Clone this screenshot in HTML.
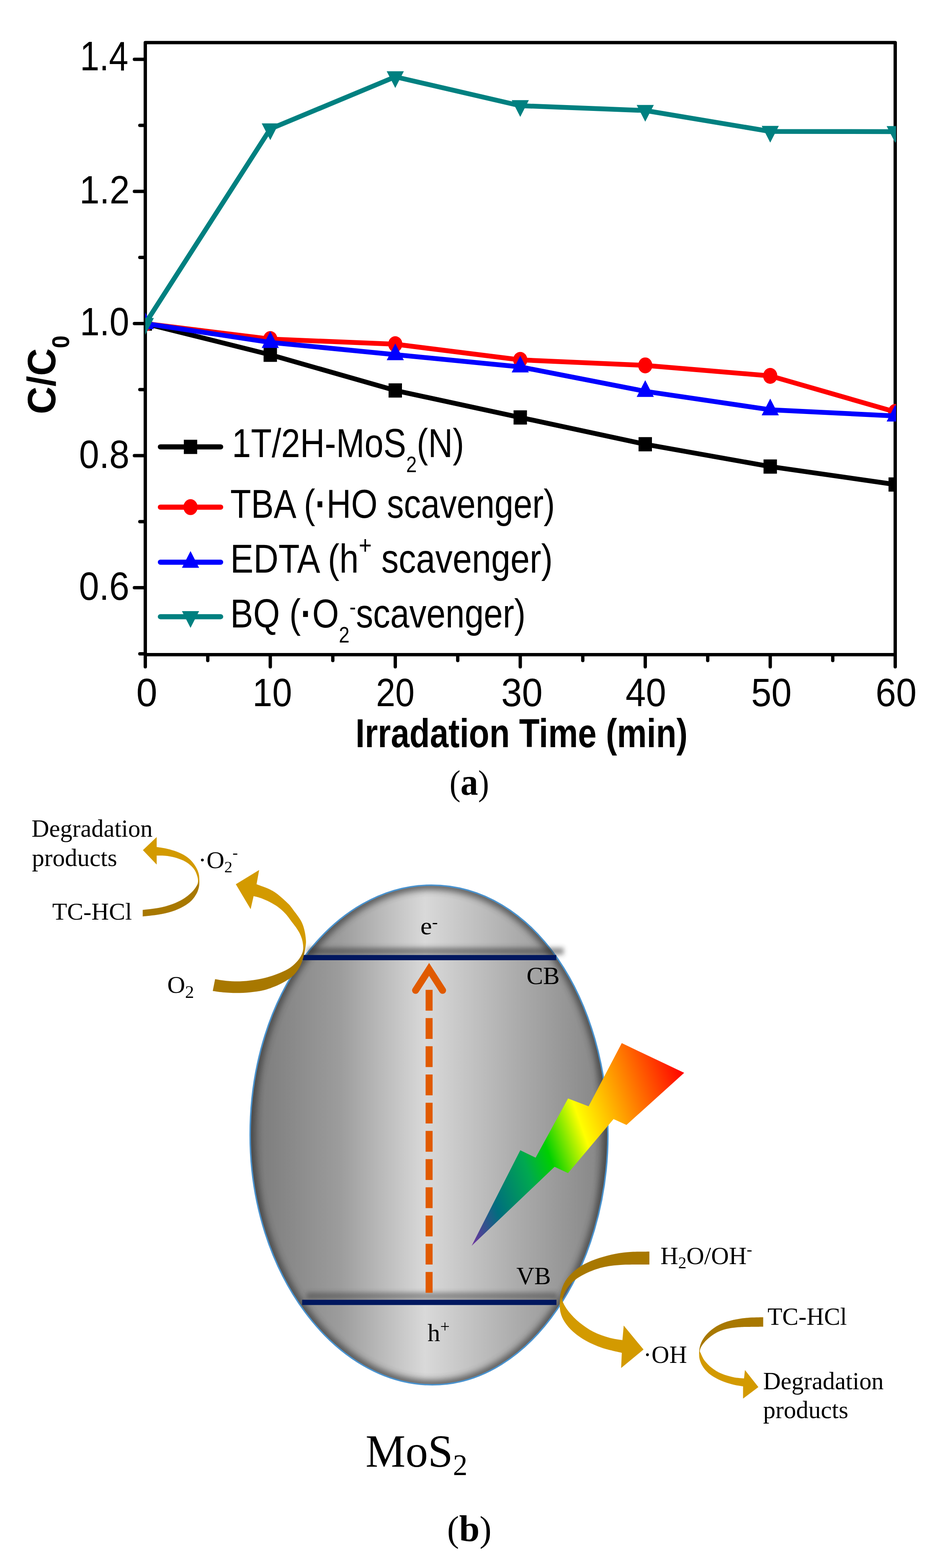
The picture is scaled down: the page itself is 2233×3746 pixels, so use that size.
<!DOCTYPE html>
<html><head><meta charset="utf-8"><title>Figure</title>
<style>html,body{margin:0;padding:0;background:#fff;width:2233px;height:3746px;overflow:hidden}svg{display:block}</style>
</head><body>
<svg width="2233" height="3746" viewBox="0 0 2233 3746">
<defs><clipPath id="pc"><rect x="347" y="101" width="1793" height="1463"/></clipPath></defs>
<path d="M347,101.7H2138V1564H347Z" fill="none" stroke="#000" stroke-width="8" stroke-linejoin="round"/>
<path d="M347,141.7H321M347,299.5H334M347,457.3H321M347,615.1H334M347,772.9H321M347,930.7H334M347,1088.5H321M347,1246.3H334M347,1404.1H321M347,1561.9H334M347,1564V1593M496.2,1564V1578M645.5,1564V1593M794.8,1564V1578M944,1564V1593M1093.2,1564V1578M1242.5,1564V1593M1391.8,1564V1578M1541,1564V1593M1690.2,1564V1578M1839.5,1564V1593M1988.8,1564V1578M2138,1564V1593" fill="none" stroke="#000" stroke-width="8" stroke-linecap="round"/>
<g clip-path="url(#pc)" stroke-linejoin="round">
<polyline points="347,773 645.5,847.5 944,932.8 1242.5,997.3 1541,1061.3 1839.5,1114.6 2138,1157.5" fill="none" stroke="#000000" stroke-width="11.5"/>
<g fill="#000000"><rect x="331" y="756" width="32" height="34"/><rect x="629.5" y="830.5" width="32" height="34"/><rect x="928" y="915.8" width="32" height="34"/><rect x="1226.5" y="980.3" width="32" height="34"/><rect x="1525" y="1044.3" width="32" height="34"/><rect x="1823.5" y="1097.6" width="32" height="34"/><rect x="2122" y="1140.5" width="32" height="34"/></g>
<polyline points="347,773 645.5,810 944,822.3 1242.5,859.8 1541,872.9 1839.5,898 2138,984" fill="none" stroke="#FF0000" stroke-width="11.5"/>
<g fill="#FF0000"><ellipse cx="347" cy="773" rx="17" ry="19"/><ellipse cx="645.5" cy="810" rx="17" ry="19"/><ellipse cx="944" cy="822.3" rx="17" ry="19"/><ellipse cx="1242.5" cy="859.8" rx="17" ry="19"/><ellipse cx="1541" cy="872.9" rx="17" ry="19"/><ellipse cx="1839.5" cy="898" rx="17" ry="19"/><ellipse cx="2138" cy="984" rx="17" ry="19"/></g>
<polyline points="347,773 645.5,818 944,847.2 1242.5,876.5 1541,934.9 1839.5,978.9 2138,993.8" fill="none" stroke="#0000FF" stroke-width="11.5"/>
<g fill="#0000FF"><path d="M347,746.3L326.5,786.3L367.5,786.3Z"/><path d="M645.5,791.3L625,831.3L666,831.3Z"/><path d="M944,820.5L923.5,860.5L964.5,860.5Z"/><path d="M1242.5,849.8L1222,889.8L1263,889.8Z"/><path d="M1541,908.2L1520.5,948.2L1561.5,948.2Z"/><path d="M1839.5,952.2L1819,992.2L1860,992.2Z"/><path d="M2138,967.1L2117.5,1007.1L2158.5,1007.1Z"/></g>
<polyline points="347,773 645.5,308 944,183.5 1242.5,252.5 1541,264 1839.5,314 2138,314.5" fill="none" stroke="#008080" stroke-width="11.5"/>
<g fill="#008080"><path d="M326.5,759.7L367.5,759.7L347,799.7Z"/><path d="M625,294.7L666,294.7L645.5,334.7Z"/><path d="M923.5,170.2L964.5,170.2L944,210.2Z"/><path d="M1222,239.2L1263,239.2L1242.5,279.2Z"/><path d="M1520.5,250.7L1561.5,250.7L1541,290.7Z"/><path d="M1819,300.7L1860,300.7L1839.5,340.7Z"/><path d="M2117.5,301.2L2158.5,301.2L2138,341.2Z"/></g>
</g>
<path d="M383,1067.6H527" stroke="#000000" stroke-width="12.2" stroke-linecap="round"/>
<g fill="#000000"><rect x="439" y="1050.6" width="32" height="34"/></g>
<path d="M383,1211.6H527" stroke="#FF0000" stroke-width="12.2" stroke-linecap="round"/>
<g fill="#FF0000"><ellipse cx="455" cy="1211.6" rx="17" ry="19"/></g>
<path d="M383,1343.1H527" stroke="#0000FF" stroke-width="12.2" stroke-linecap="round"/>
<g fill="#0000FF"><path d="M455,1316.4L434.5,1356.4L475.5,1356.4Z"/></g>
<path d="M383,1473.3H527" stroke="#008080" stroke-width="12.2" stroke-linecap="round"/>
<g fill="#008080"><path d="M434.5,1460L475.5,1460L455,1500Z"/></g>
<text transform="translate(131.5,989.5) rotate(-90)" style="font-family:'Liberation Sans',Arial,sans-serif;font-size:95px;font-weight:bold" textLength="188" lengthAdjust="spacingAndGlyphs">C/C<tspan dy="33" style="font-size:57px">0</tspan></text>
<defs>
<linearGradient id="eggG" gradientUnits="userSpaceOnUse" x1="598" y1="0" x2="1451" y2="0">
<stop offset="0" stop-color="#6c6c6c"/><stop offset="0.04" stop-color="#7f7f7f"/>
<stop offset="0.25" stop-color="#9c9c9c"/><stop offset="0.489" stop-color="#d9d9d9"/>
<stop offset="0.75" stop-color="#ababab"/><stop offset="0.96" stop-color="#8a8a8a"/><stop offset="1" stop-color="#6c6c6c"/>
</linearGradient>
<clipPath id="eggC"><path d="M1030.0,2114.7 C1274.6,2114.7 1451.8,2387.7 1451.8,2711.3 C1451.8,3027.4 1267.9,3308.3 1032.6,3308.3 C801.8,3308.3 597.4,3043.2 597.4,2711.3 C597.4,2369.0 801.2,2114.7 1030.0,2114.7Z"/></clipPath>
<filter id="blur8" x="-20%" y="-20%" width="140%" height="140%"><feGaussianBlur stdDeviation="8"/></filter>
<filter id="blur6" x="-20%" y="-200%" width="140%" height="500%"><feGaussianBlur stdDeviation="6"/></filter>
<linearGradient id="boltG" gradientUnits="userSpaceOnUse" x1="1126.4" y1="2976.2" x2="1707.9" y2="2772.9">
<stop offset="0" stop-color="#7030A0"/><stop offset="0.14" stop-color="#006E7E"/>
<stop offset="0.3" stop-color="#00A850"/><stop offset="0.4" stop-color="#00D000"/>
<stop offset="0.555" stop-color="#FFFF00"/><stop offset="0.74" stop-color="#FF9600"/><stop offset="1" stop-color="#FF0000"/>
</linearGradient>
<linearGradient id="gA" gradientUnits="userSpaceOnUse" x1="0" y1="2100" x2="0" y2="2116"><stop offset="0" stop-color="#D39A00"/><stop offset="1" stop-color="#A87800"/></linearGradient>
<linearGradient id="gB" gradientUnits="userSpaceOnUse" x1="0" y1="2258" x2="0" y2="2280"><stop offset="0" stop-color="#D39A00"/><stop offset="1" stop-color="#A87800"/></linearGradient>
<linearGradient id="gC" gradientUnits="userSpaceOnUse" x1="0" y1="3098" x2="0" y2="3116"><stop offset="0" stop-color="#A87800"/><stop offset="1" stop-color="#D39A00"/></linearGradient>
<linearGradient id="gD" gradientUnits="userSpaceOnUse" x1="0" y1="3222" x2="0" y2="3236"><stop offset="0" stop-color="#A87800"/><stop offset="1" stop-color="#D39A00"/></linearGradient>
</defs>
<path d="M1030.0,2114.7 C1274.6,2114.7 1451.8,2387.7 1451.8,2711.3 C1451.8,3027.4 1267.9,3308.3 1032.6,3308.3 C801.8,3308.3 597.4,3043.2 597.4,2711.3 C597.4,2369.0 801.2,2114.7 1030.0,2114.7Z" fill="url(#eggG)"/>
<g clip-path="url(#eggC)"><path d="M1030.0,2114.7 C1274.6,2114.7 1451.8,2387.7 1451.8,2711.3 C1451.8,3027.4 1267.9,3308.3 1032.6,3308.3 C801.8,3308.3 597.4,3043.2 597.4,2711.3 C597.4,2369.0 801.2,2114.7 1030.0,2114.7Z" fill="none" stroke="#3a3a3a" stroke-width="22" filter="url(#blur8)" opacity="0.75"/></g>
<path d="M1030.0,2114.7 C1274.6,2114.7 1451.8,2387.7 1451.8,2711.3 C1451.8,3027.4 1267.9,3308.3 1032.6,3308.3 C801.8,3308.3 597.4,3043.2 597.4,2711.3 C597.4,2369.0 801.2,2114.7 1030.0,2114.7Z" fill="none" stroke="#4a93cf" stroke-width="3.5"/>
<rect x="734" y="2264" width="612" height="17" fill="#2a2a2a" opacity="0.5" filter="url(#blur6)"/>
<rect x="732" y="3088" width="598" height="17" fill="#2a2a2a" opacity="0.42" filter="url(#blur6)"/>
<rect x="722.5" y="2281.5" width="606" height="12.5" fill="#00175F"/>
<rect x="721.5" y="3105.2" width="607.5" height="12.5" fill="#00175F"/>
<path d="M1024.8,3088.5V2363.5" stroke="#E05A00" stroke-width="16.7" stroke-dasharray="49.7 17.7" fill="none"/>
<path d="M992.5,2366L1024.8,2316L1057,2366" stroke="#E05A00" stroke-width="16.7" stroke-linecap="round" stroke-linejoin="miter" fill="none"/>
<path d="M1126.4,2976.2L1242.6,2747.9L1279.2,2765.7L1356.6,2624.2L1405.7,2643L1484.9,2492.1L1634,2563L1496.2,2687.5L1465.3,2673.6L1356.6,2802.6L1324.5,2787.5Z" fill="url(#boltG)"/>
<path d="M340.8,2189.5C347.1,2188.8 366.8,2187.1 378.5,2185.1C390.2,2183.1 401,2180.8 410.9,2177.6C420.8,2174.4 430.1,2170 437.8,2165.7C445.5,2161.4 452,2156.7 457.2,2151.7C462.4,2146.7 466.1,2141 469.1,2135.6C472.1,2130.2 473.8,2124.8 475,2119.4C476.2,2114 476.2,2108.6 476.1,2103.2C476,2097.8 476,2092.6 474.5,2087C473,2081.4 470.3,2075.4 466.9,2069.8C463.5,2064.2 458.9,2058.3 454,2053.6C449.1,2048.9 444.1,2045.3 437.8,2041.8C431.5,2038.3 423.5,2035.1 416.3,2032.6C409.1,2030.1 401.7,2028.2 394.7,2026.7C387.7,2025.2 377.6,2024 374.2,2023.4L374.2,1999.7L341.3,2031L374.2,2065.5L374.2,2043.9C377.6,2044 387.7,2043.7 394.7,2044.4C401.7,2045.1 409.1,2046.3 416.3,2048.2C423.5,2050.1 431.5,2052.8 437.8,2055.8C444.1,2058.9 449.5,2062.7 454,2066.5C458.5,2070.3 461.9,2073.9 464.8,2078.4C467.7,2082.9 469.9,2088.8 471.2,2093.5C472.5,2098.2 473.2,2102.5 472.9,2106.4C472.5,2110.3 471.7,2112.9 469.1,2117.2C466.5,2121.5 462.4,2127.3 457.2,2132.3C452,2137.3 445.5,2142.7 437.8,2147.4C430.1,2152.1 420.8,2156.7 410.9,2160.3C401,2163.9 390.2,2166.8 378.5,2169C366.8,2171.2 347.1,2173 340.8,2173.8Z" fill="url(#gA)"/>
<path d="M508.1,2367.5C512.1,2368 522.9,2369.9 532.3,2370.7C541.7,2371.5 553.9,2372.3 564.7,2372.3C575.5,2372.3 586.2,2371.8 597,2370.7C607.8,2369.6 618.6,2368.5 629.4,2365.8C640.2,2363.1 652.3,2358.5 661.7,2354.5C671.1,2350.5 679.2,2345.9 686,2341.6C692.8,2337.3 697.4,2333.8 702.2,2328.7C707.1,2323.6 711.6,2317.1 715.1,2310.9C718.6,2304.7 721.1,2298.1 723.2,2291.5C725.4,2284.9 726.8,2277.9 728,2271.5C729.2,2265.1 730.4,2258.1 730.7,2252.8C731,2247.5 730.4,2244.2 730,2239.9C729.6,2235.6 729,2231.4 728.1,2227.1C727.2,2222.8 726.3,2218.5 724.9,2214.2C723.5,2209.9 722,2205.7 719.7,2201.4C717.5,2197.1 714.4,2192.8 711.4,2188.5C708.4,2184.2 705.5,2180.5 701.8,2175.7C698,2170.9 695.3,2166.1 688.9,2159.6C682.5,2153.1 670.6,2142.3 663.2,2136.5C655.8,2130.7 650.6,2127.9 644.3,2124.7C638,2121.5 630.8,2119.2 625.5,2117.2C620.2,2115.2 614.8,2113.3 612.7,2112.5L618.9,2078.5L563.2,2112.5L598.6,2171.9L605.7,2140.8C609,2141.7 619.1,2144.1 625.5,2146.4C631.9,2148.8 638,2151.6 644.3,2154.9C650.6,2158.2 656.9,2161.5 663.2,2166.2C669.5,2170.9 676.2,2176.8 682.1,2183.2C688,2189.6 694.1,2198.9 698.5,2204.6C702.9,2210.3 705.3,2213.2 708.2,2217.5C711.1,2221.8 713.8,2226 715.9,2230.3C718,2234.6 719.7,2238.8 721,2243.1C722.3,2247.4 723.1,2251.7 723.6,2256C724.1,2260.3 724.6,2264.6 724,2268.8C723.4,2273 722.4,2276.6 720.2,2281C718,2285.4 715.1,2290.5 710.8,2295.5C706.4,2300.5 700.9,2306.2 694.1,2310.9C687.3,2315.6 679.2,2319.8 669.8,2323.8C660.4,2327.8 648.3,2332.1 637.5,2335.1C626.7,2338.1 615.9,2340 605.1,2341.6C594.3,2343.2 583.6,2344.2 572.8,2344.5C562,2344.8 550.2,2344.1 540.4,2343.2C530.5,2342.3 518.2,2339.9 513.7,2339.2Z" fill="url(#gB)"/>
<path d="M1550.9,2990.1C1543.8,2990.2 1521.8,2989.9 1508.2,2990.8C1494.6,2991.7 1482.4,2993 1469.5,2995.5C1456.6,2998 1443.1,3001.5 1430.7,3005.6C1418.3,3009.7 1405.4,3014.8 1395.1,3020.3C1384.8,3025.9 1376.2,3032.2 1368.7,3038.9C1361.2,3045.6 1354.9,3052.8 1350.1,3060.6C1345.3,3068.3 1342.3,3077.1 1340.1,3085.4C1337.9,3093.7 1337.3,3101.9 1337,3110.2C1336.7,3118.5 1336.6,3127 1338.5,3135C1340.4,3143 1343.6,3150.4 1348.6,3158.2C1353.6,3165.9 1360.2,3174 1368.7,3181.5C1377.2,3189 1388.1,3196.8 1399.7,3203.2C1411.3,3209.6 1424.3,3215.4 1438.5,3220.2C1452.7,3225 1477.2,3229.9 1485,3231.9L1483.4,3268.3L1536.9,3224.1L1489.6,3166.8L1486.5,3201.6C1481.1,3200.6 1465.6,3198.8 1454,3195.4C1442.4,3192.1 1428.4,3187.4 1416.8,3181.5C1405.2,3175.6 1393.8,3167.6 1384.2,3159.8C1374.6,3152.1 1365.9,3142.8 1359.4,3135C1353,3127.2 1348.1,3119 1345.5,3113.3C1342.9,3107.6 1342.7,3106.6 1344,3100.9C1345.3,3095.2 1348.6,3086.2 1353.2,3079.2C1357.8,3072.2 1364,3065.2 1371.8,3059C1379.5,3052.8 1388.6,3047.2 1399.7,3042C1410.8,3036.8 1424.3,3031.4 1438.5,3028C1452.7,3024.6 1466.3,3023 1485,3021.8C1503.7,3020.7 1539.9,3021.2 1550.9,3021.1Z" fill="url(#gC)"/>
<path d="M1822.7,3147C1816.6,3147.2 1797.8,3147.1 1786,3148.2C1774.2,3149.2 1762.1,3150.9 1751.6,3153.3C1741.1,3155.7 1731.6,3158.7 1723,3162.5C1714.4,3166.3 1706.8,3171 1700.1,3176.2C1693.4,3181.3 1687.5,3187.3 1682.9,3193.4C1678.3,3199.5 1674.8,3206.4 1672.6,3212.9C1670.4,3219.4 1669.9,3226.3 1669.7,3232.4C1669.5,3238.5 1669.7,3243.7 1671.5,3249.6C1673.3,3255.5 1676.2,3262 1680.6,3267.9C1685,3273.8 1690.7,3279.9 1697.8,3285.1C1704.9,3290.2 1714,3295 1723,3298.8C1732,3302.6 1743,3305.8 1751.6,3308C1760.2,3310.2 1770.8,3311.3 1774.6,3312L1774.6,3341.2L1811.2,3313.7L1779.1,3273L1776.9,3293.1C1772.7,3292.6 1760.6,3292.1 1751.6,3290.2C1742.6,3288.3 1731.6,3285.3 1723,3281.6C1714.4,3277.9 1706.8,3273.1 1700.1,3267.9C1693.4,3262.8 1687.3,3256.4 1682.9,3250.7C1678.5,3245 1675.6,3237.5 1673.7,3233.5C1671.8,3229.5 1671.1,3229.7 1671.5,3226.6C1671.9,3223.5 1673.2,3219.6 1676,3215.2C1678.8,3210.8 1683.2,3205.3 1688.6,3200.3C1693.9,3195.3 1700.4,3189.6 1708.1,3185.4C1715.8,3181.2 1724.4,3177.6 1734.5,3175.1C1744.6,3172.6 1754.1,3171.4 1768.8,3170.5C1783.5,3169.6 1813.7,3169.6 1822.7,3169.4Z" fill="url(#gD)"/>
<g fill="#000"><text id="t14" x="191" y="168.4" style="font-family:'Liberation Sans',Arial,sans-serif;font-size:97.4px" textLength="115.6" lengthAdjust="spacingAndGlyphs">1.4</text>
<text id="t12" x="189.8" y="486.2" style="font-family:'Liberation Sans',Arial,sans-serif;font-size:94.6px" textLength="119.8" lengthAdjust="spacingAndGlyphs">1.2</text>
<text id="t10" x="190.8" y="801.4" style="font-family:'Liberation Sans',Arial,sans-serif;font-size:94px" textLength="117.8" lengthAdjust="spacingAndGlyphs">1.0</text>
<text id="t08" x="188.8" y="1117.6" style="font-family:'Liberation Sans',Arial,sans-serif;font-size:94.4px" textLength="120.2" lengthAdjust="spacingAndGlyphs">0.8</text>
<text id="t06" x="188.6" y="1432.6" style="font-family:'Liberation Sans',Arial,sans-serif;font-size:94.7px" textLength="120.4" lengthAdjust="spacingAndGlyphs">0.6</text>
<text id="x0" x="325.5" y="1686.6" style="font-family:'Liberation Sans',Arial,sans-serif;font-size:93.7px" textLength="50.1" lengthAdjust="spacingAndGlyphs">0</text>
<text id="x10" x="603" y="1686.6" style="font-family:'Liberation Sans',Arial,sans-serif;font-size:93.7px" textLength="94.5" lengthAdjust="spacingAndGlyphs">10</text>
<text id="x20" x="898" y="1686.6" style="font-family:'Liberation Sans',Arial,sans-serif;font-size:93.7px" textLength="92.2" lengthAdjust="spacingAndGlyphs">20</text>
<text id="x30" x="1197" y="1686.6" style="font-family:'Liberation Sans',Arial,sans-serif;font-size:93.7px" textLength="98.8" lengthAdjust="spacingAndGlyphs">30</text>
<text id="x40" x="1494" y="1686.6" style="font-family:'Liberation Sans',Arial,sans-serif;font-size:93.7px" textLength="96.8" lengthAdjust="spacingAndGlyphs">40</text>
<text id="x50" x="1794" y="1686.6" style="font-family:'Liberation Sans',Arial,sans-serif;font-size:93.7px" textLength="96.7" lengthAdjust="spacingAndGlyphs">50</text>
<text id="x60" x="2091" y="1686.6" style="font-family:'Liberation Sans',Arial,sans-serif;font-size:93.7px" textLength="98.1" lengthAdjust="spacingAndGlyphs">60</text>
<text id="xtitle" x="849" y="1785" style="font-family:'Liberation Sans',Arial,sans-serif;font-size:95.5px;font-weight:bold" textLength="793.2" lengthAdjust="spacingAndGlyphs">Irradation Time (min)</text>
<text id="leg1" x="554" y="1092" style="font-family:'Liberation Sans',Arial,sans-serif;font-size:96.5px" textLength="554.3" lengthAdjust="spacingAndGlyphs">1T/2H-MoS<tspan dy="36" style="font-size:54px">2</tspan><tspan dy="-36">(N)</tspan></text>
<text id="leg2" x="550" y="1237.3" style="font-family:'Liberation Sans',Arial,sans-serif;font-size:96.5px" textLength="775.3" lengthAdjust="spacingAndGlyphs">TBA (<tspan style="font-weight:bold">·</tspan>HO scavenger)</text>
<text id="leg3" x="550" y="1367.9" style="font-family:'Liberation Sans',Arial,sans-serif;font-size:96.5px" textLength="770.2" lengthAdjust="spacingAndGlyphs">EDTA (h<tspan dy="-45" style="font-size:62px">+</tspan><tspan dy="45"> scavenger)</tspan></text>
<text id="leg4" x="550" y="1498.6" style="font-family:'Liberation Sans',Arial,sans-serif;font-size:96.5px" textLength="705.3" lengthAdjust="spacingAndGlyphs">BQ (<tspan style="font-weight:bold">·</tspan>O<tspan dy="36" style="font-size:54px">2</tspan><tspan dy="-67" style="font-size:54px">-</tspan><tspan dy="31">scavenger)</tspan></text>
<text id="lab_a" x="1073.4" y="1899" style="font-family:'Liberation Serif','Times New Roman',serif;font-size:85.6px" textLength="94.8" lengthAdjust="spacingAndGlyphs">(<tspan style="font-weight:bold;font-size:91px">a</tspan>)</text>
<text id="deg1" x="75.2" y="1998.5" style="font-family:'Liberation Serif','Times New Roman',serif;font-size:60px" textLength="289.3" lengthAdjust="spacingAndGlyphs">Degradation</text>
<text id="prod1" x="76.2" y="2069" style="font-family:'Liberation Serif','Times New Roman',serif;font-size:60px" textLength="203.6" lengthAdjust="spacingAndGlyphs">products</text>
<text id="tc1" x="124.8" y="2196.5" style="font-family:'Liberation Serif','Times New Roman',serif;font-size:57.7px" textLength="190.4" lengthAdjust="spacingAndGlyphs">TC-HCl</text>
<text id="o2a" x="399.4" y="2372.2" style="font-family:'Liberation Serif','Times New Roman',serif;font-size:58px" textLength="64.1" lengthAdjust="spacingAndGlyphs">O<tspan dy="12" style="font-size:42px">2</tspan></text>
<text id="o2b" x="473.6" y="2073.8" style="font-family:'Liberation Serif','Times New Roman',serif;font-size:58px" textLength="94.5" lengthAdjust="spacingAndGlyphs">·O<tspan dy="10" style="font-size:38px">2</tspan><tspan dy="-34" style="font-size:38px">-</tspan></text>
<text id="em" x="1004.1" y="2231.8" style="font-family:'Liberation Serif','Times New Roman',serif;font-size:60px" textLength="41.5" lengthAdjust="spacingAndGlyphs">e<tspan dy="-16" style="font-size:40px">-</tspan></text>
<text id="cb" x="1257.4" y="2351" style="font-family:'Liberation Serif','Times New Roman',serif;font-size:58.5px" textLength="79.2" lengthAdjust="spacingAndGlyphs">CB</text>
<text id="vb" x="1233.2" y="3068" style="font-family:'Liberation Serif','Times New Roman',serif;font-size:59.6px" textLength="82.6" lengthAdjust="spacingAndGlyphs">VB</text>
<text id="hp" x="1021" y="3204" style="font-family:'Liberation Serif','Times New Roman',serif;font-size:60px" textLength="53" lengthAdjust="spacingAndGlyphs">h<tspan dy="-22" style="font-size:40px">+</tspan></text>
<text id="h2o" x="1577.2" y="3019.8" style="font-family:'Liberation Serif','Times New Roman',serif;font-size:60px" textLength="219.1" lengthAdjust="spacingAndGlyphs">H<tspan dy="10" style="font-size:40px">2</tspan><tspan dy="-10">O/OH</tspan><tspan dy="-22" style="font-size:40px">-</tspan></text>
<text id="oh" x="1536.6" y="3255.5" style="font-family:'Liberation Serif','Times New Roman',serif;font-size:60px" textLength="104.2" lengthAdjust="spacingAndGlyphs">·OH</text>
<text id="tc2" x="1833" y="3164.5" style="font-family:'Liberation Serif','Times New Roman',serif;font-size:58.4px" textLength="189.6" lengthAdjust="spacingAndGlyphs">TC-HCl</text>
<text id="deg2" x="1822.4" y="3319.3" style="font-family:'Liberation Serif','Times New Roman',serif;font-size:60px" textLength="288.1" lengthAdjust="spacingAndGlyphs">Degradation</text>
<text id="prod2" x="1822.4" y="3388.4" style="font-family:'Liberation Serif','Times New Roman',serif;font-size:60px" textLength="203.6" lengthAdjust="spacingAndGlyphs">products</text>
<text id="mos2" x="873" y="3503.7" style="font-family:'Liberation Serif','Times New Roman',serif;font-size:110px" textLength="243.3" lengthAdjust="spacingAndGlyphs">MoS<tspan dy="20" style="font-size:71px">2</tspan></text>
<text id="lab_b" x="1067.8" y="3682.4" style="font-family:'Liberation Serif','Times New Roman',serif;font-size:85.9px">(<tspan style="font-weight:bold;font-size:88px">b</tspan>)</text></g>
</svg>
</body></html>
